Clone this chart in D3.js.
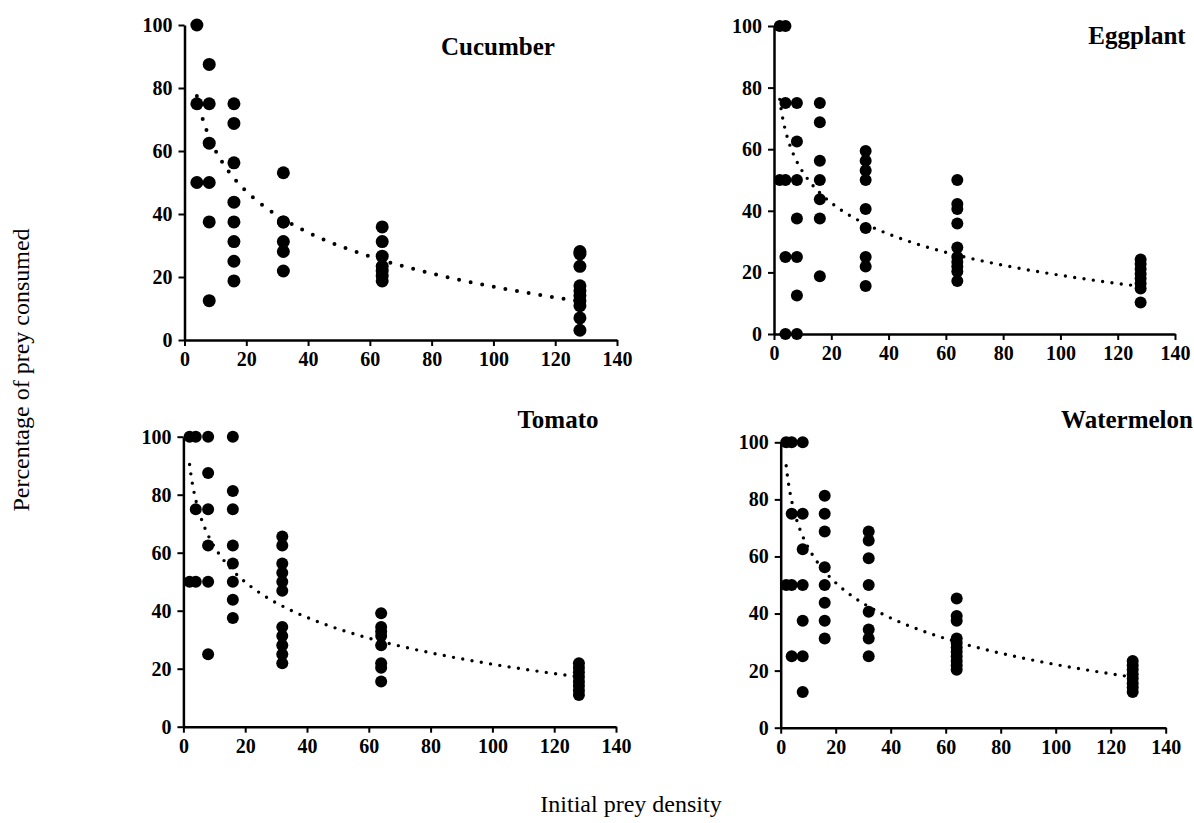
<!DOCTYPE html>
<html>
<head>
<meta charset="utf-8">
<script src="https://cdn.jsdelivr.net/npm/d3@7/dist/d3.min.js"></script>
<style>
    body { margin: 0; background: #fff; }
    svg text { font-family: "Times New Roman", "Liberation Serif", serif; fill: #000; }
</style>
</head>
<body>
<div id="chart"></div>
<script>
// initial prey density levels (x values)
var densities = [2, 4, 8, 16, 32, 64, 128];
var xTicks = [0, 20, 40, 60, 80, 100, 120, 140];
var yTicks = [0, 20, 40, 60, 80, 100];

// percentage of prey consumed, one array per density level (same order as densities)
var cucumber = [
    [],
    [100, 75, 50],
    [87.5, 75, 62.5, 50, 37.5, 12.5],
    [75, 68.75, 56.25, 43.75, 37.5, 31.25, 25, 18.75],
    [53.1, 37.5, 37.5, 31.25, 28.1, 21.9],
    [35.9, 31.25, 26.6, 23.4, 21.9, 20.3, 18.75],
    [28.1, 27.3, 23.4, 17.2, 15.6, 14.1, 12.5, 10.9, 7.0, 3.1]
];
var eggplant = [
    [100, 50],
    [100, 75, 50, 25, 0],
    [75, 62.5, 50, 37.5, 25, 12.5, 0],
    [75, 68.75, 56.25, 50, 43.75, 37.5, 18.75],
    [59.4, 56.25, 53.1, 50, 40.6, 34.4, 25, 21.9, 15.6],
    [50, 42.2, 40.6, 35.9, 28.1, 25, 23.4, 21.9, 20.3, 17.2],
    [24.2, 22.7, 21.1, 19.5, 18.0, 16.4, 14.8, 10.2]
];
var tomato = [
    [100, 50],
    [100, 75, 50],
    [100, 87.5, 75, 62.5, 50, 25],
    [100, 81.25, 75, 62.5, 56.25, 50, 43.75, 37.5],
    [65.6, 62.5, 56.25, 53.1, 50, 46.9, 34.4, 31.25, 28.1, 25, 21.9],
    [39.1, 34.4, 32.8, 31.25, 28.1, 21.9, 20.3, 15.6],
    [21.9, 20.3, 18.75, 17.2, 15.6, 14.1, 12.5, 10.9]
];
var watermelon = [
    [100, 50],
    [100, 75, 50, 25],
    [100, 75, 62.5, 50, 37.5, 25, 12.5],
    [81.25, 75, 68.75, 56.25, 50, 43.75, 37.5, 31.25],
    [68.75, 65.6, 59.4, 50, 40.6, 34.4, 31.25, 25],
    [45.3, 39.1, 37.5, 31.25, 29.7, 28.1, 26.6, 25, 23.4, 21.9, 20.3],
    [23.4, 21.9, 20.3, 18.75, 17.2, 15.6, 14.1, 12.5]
];

// logarithmic trendlines y = a + b*ln(x)
var cropNames = ["Cucumber", "Eggplant", "Tomato", "Watermelon"];
var trendA = [103.5, 86.3, 102.6, 104.1];
var trendB = [-18.8, -14.6, -17.6, -17.8];

var cropData = [cucumber, eggplant, tomato, watermelon];

// panel geometry (pixels)
var panels = [
    { left: 184.5, right: 617,  bottom: 340,   top: 25,    titleX: 498,  titleY: 55,  r: 6.5, gap: 11.8, dot: 4 },
    { left: 774,   right: 1175, bottom: 334,   top: 26,    titleX: 1137, titleY: 44,  r: 6,   gap: 9.4,  dot: 3.4 },
    { left: 183.4, right: 616,  bottom: 726.7, top: 436.7, titleX: 558,  titleY: 428, r: 6,   gap: 9.4,  dot: 3.4 },
    { left: 780.7, right: 1165.7, bottom: 727.7, top: 442.3, titleX: 1127, titleY: 428, r: 6, gap: 9.3,  dot: 3.4 }
];

var width = 1194;
var height = 823;

var svg = d3.select("#chart").append("svg")
    .attr("width", width)
    .attr("height", height);

panels.forEach(function (p, i) {
    var x = d3.scaleLinear().domain([0, 140]).range([p.left, p.right]);
    var y = d3.scaleLinear().domain([0, 100]).range([p.bottom, p.top]);

    var g = svg.append("g");

    // points
    var pts = [];
    cropData[i].forEach(function (vals, k) {
        vals.forEach(function (v) {
            pts.push({ d: densities[k], v: v });
        });
    });

    g.selectAll("circle")
        .data(pts)
        .enter()
        .append("circle")
        .attr("cx", function (d) { return x(d.d) })
        .attr("cy", function (d) { return y(d.v) })
        .attr("r", p.r)
        .attr("fill", "#000");

    // trendline over the data range
    var xs = pts.map(function (d) { return d.d });
    var lo = Math.log(d3.min(xs)), hi = Math.log(d3.max(xs));
    var curve = d3.range(0, 81).map(function (j) {
        var xv = Math.exp(lo + (hi - lo) * j / 80);
        return [xv, trendA[i] + trendB[i] * Math.log(xv)];
    });
    g.append("path")
        .datum(curve)
        .attr("fill", "none")
        .attr("stroke", "#000")
        .attr("stroke-width", p.dot)
        .attr("stroke-linecap", "round")
        .attr("stroke-dasharray", "0 " + p.gap)
        .attr("d", d3.line()
            .x(function (d) { return x(d[0]) })
            .y(function (d) { return y(d[1]) }));

    // axes
    var xAxis = g.append("g")
        .attr("transform", "translate(0," + p.bottom + ")")
        .call(d3.axisBottom(x).tickValues(xTicks).tickSizeInner(6).tickSizeOuter(0).tickPadding(6));
    var yAxis = g.append("g")
        .attr("transform", "translate(" + p.left + ",0)")
        .call(d3.axisLeft(y).tickValues(yTicks).tickSizeInner(6).tickSizeOuter(0).tickPadding(6));

    [xAxis, yAxis].forEach(function (a) {
        a.select(".domain").attr("stroke", "#000").attr("stroke-width", 2.5);
        a.selectAll(".tick line").attr("stroke", "#000").attr("stroke-width", 2);
        a.selectAll(".tick text")
            .style("font-size", "20px")
            .style("font-weight", "bold")
            .style("font-family", '"Times New Roman", "Liberation Serif", serif');
    });

    g.append("text")
        .attr("x", p.titleX)
        .attr("y", p.titleY)
        .attr("text-anchor", "middle")
        .style("font-size", "25px")
        .style("font-weight", "bold")
        .text(cropNames[i]);
});

svg.append("text")
    .attr("transform", "translate(29,370) rotate(-90)")
    .attr("text-anchor", "middle")
    .style("font-size", "24px")
    .text("Percentage of prey consumed");

svg.append("text")
    .attr("x", 631)
    .attr("y", 812)
    .attr("text-anchor", "middle")
    .style("font-size", "24px")
    .text("Initial prey density");
</script>
</body>
</html>
